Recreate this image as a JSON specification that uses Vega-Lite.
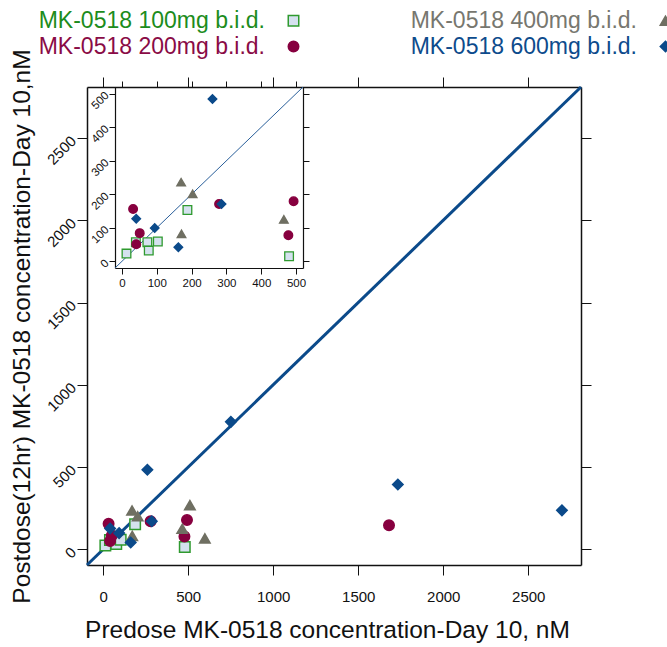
{
  "$schema": "https://vega.github.io/schema/vega-lite/v6.json",
  "width": 494,
  "height": 478,
  "autosize": {"type": "none"},
  "padding": {"left": 87, "top": 87, "right": 86, "bottom": 82},
  "background": "white",
  "config": {
    "font": "Liberation Sans",
    "view": {"stroke": null},
    "axis": {"grid": false, "domainColor": "#111111", "tickColor": "#111111", "labelColor": "#111111", "titleColor": "#111111", "labelFont": "Liberation Sans", "titleFont": "Liberation Sans", "titleFontWeight": "normal", "format": "d"}
  },
  "datasets": {
    "pts": [
      {"dose": "MK-0518 100mg b.i.d.", "pre": 13, "post": 23},
      {"dose": "MK-0518 100mg b.i.d.", "pre": 40, "post": 57},
      {"dose": "MK-0518 100mg b.i.d.", "pre": 73, "post": 57},
      {"dose": "MK-0518 100mg b.i.d.", "pre": 77, "post": 32},
      {"dose": "MK-0518 100mg b.i.d.", "pre": 103, "post": 59},
      {"dose": "MK-0518 100mg b.i.d.", "pre": 188, "post": 153},
      {"dose": "MK-0518 100mg b.i.d.", "pre": 480, "post": 15},
      {"dose": "MK-0518 200mg b.i.d.", "pre": 32, "post": 156},
      {"dose": "MK-0518 200mg b.i.d.", "pre": 51, "post": 84},
      {"dose": "MK-0518 200mg b.i.d.", "pre": 41, "post": 51},
      {"dose": "MK-0518 200mg b.i.d.", "pre": 279, "post": 171},
      {"dose": "MK-0518 200mg b.i.d.", "pre": 493, "post": 179},
      {"dose": "MK-0518 200mg b.i.d.", "pre": 478, "post": 78},
      {"dose": "MK-0518 200mg b.i.d.", "pre": 1681, "post": 146},
      {"dose": "MK-0518 400mg b.i.d.", "pre": 170, "post": 236},
      {"dose": "MK-0518 400mg b.i.d.", "pre": 203, "post": 201},
      {"dose": "MK-0518 400mg b.i.d.", "pre": 171, "post": 82},
      {"dose": "MK-0518 400mg b.i.d.", "pre": 465, "post": 125},
      {"dose": "MK-0518 400mg b.i.d.", "pre": 510, "post": 269},
      {"dose": "MK-0518 400mg b.i.d.", "pre": 598, "post": 67},
      {"dose": "MK-0518 600mg b.i.d.", "pre": 260, "post": 484},
      {"dose": "MK-0518 600mg b.i.d.", "pre": 286, "post": 171},
      {"dose": "MK-0518 600mg b.i.d.", "pre": 41, "post": 127},
      {"dose": "MK-0518 600mg b.i.d.", "pre": 94, "post": 99},
      {"dose": "MK-0518 600mg b.i.d.", "pre": 162, "post": 42},
      {"dose": "MK-0518 600mg b.i.d.", "pre": 751, "post": 775},
      {"dose": "MK-0518 600mg b.i.d.", "pre": 1733, "post": 394},
      {"dose": "MK-0518 600mg b.i.d.", "pre": 2698, "post": 237}
    ],
    "mainline": [{"a": -95, "b": 2810}],
    "insetline": [{"a": -20, "b": 520}]
  },
  "resolve": {"scale": {"x": "independent", "y": "independent", "shape": "shared", "fill": "shared", "stroke": "shared"}},
  "layer": [
    {
      "data": {"name": "mainline"},
      "mark": {"type": "rule", "color": "#0b4a8a", "strokeWidth": 3},
      "encoding": {
        "x": {"field": "a", "type": "quantitative", "scale": {"domain": [-95, 2810], "nice": false, "zero": false},
          "axis": {"orient": "bottom", "values": [0, 500, 1000, 1500, 2000, 2500], "tickSize": 10, "tickWidth": 1, "domainWidth": 1.5, "labelFontSize": 15, "labelPadding": 14, "title": "Predose MK-0518 concentration-Day 10, nM", "titleFontSize": 24.5, "titlePadding": 14, "titleX": 240}},
        "y": {"field": "a", "type": "quantitative", "scale": {"domain": [-95, 2810], "nice": false, "zero": false},
          "axis": {"orient": "left", "values": [0, 500, 1000, 1500, 2000, 2500], "tickSize": 10, "tickWidth": 1, "domainWidth": 1.5, "labelFontSize": 15, "labelPadding": 4, "labelAngle": -45, "title": "Postdose(12hr) MK-0518 concentration-Day 10,nM", "titleFontSize": 24.5, "titlePadding": 10}},
        "x2": {"field": "b"},
        "y2": {"field": "b"}
      }
    },
    {
      "data": {"name": "mainline"},
      "mark": {"type": "rule", "opacity": 0},
      "encoding": {
        "x": {"field": "a", "type": "quantitative", "scale": {"domain": [-95, 2810], "nice": false, "zero": false},
          "axis": {"orient": "top", "values": [0, 500, 1000, 1500, 2000, 2500], "tickSize": 10, "tickWidth": 1, "domainWidth": 1.5, "labels": false, "title": null}},
        "y": {"field": "a", "type": "quantitative", "scale": {"domain": [-95, 2810], "nice": false, "zero": false},
          "axis": {"orient": "right", "values": [0, 500, 1000, 1500, 2000, 2500], "tickSize": 10, "tickWidth": 1, "domainWidth": 1.5, "labels": false, "title": null}},
        "x2": {"field": "b"},
        "y2": {"field": "b"}
      }
    },
    {
      "data": {"name": "pts"},
      "mark": {"type": "point", "filled": true, "opacity": 1, "strokeWidth": 1.5, "size": 110},
      "encoding": {
        "x": {"field": "pre", "type": "quantitative", "scale": {"domain": [-95, 2810], "nice": false, "zero": false}, "axis": null},
        "y": {"field": "post", "type": "quantitative", "scale": {"domain": [-95, 2810], "nice": false, "zero": false}, "axis": null},
        "shape": {"field": "dose", "type": "nominal",
          "scale": {"domain": ["MK-0518 100mg b.i.d.", "MK-0518 200mg b.i.d.", "MK-0518 400mg b.i.d.", "MK-0518 600mg b.i.d."], "range": ["square", "circle", "triangle-up", "diamond"]},
          "legend": {"orient": "none", "legendX": 195, "legendY": -78, "columns": 2, "columnPadding": 108, "rowPadding": 2, "title": null, "labelAlign": "right", "labelOffset": -40, "labelFontSize": 23, "labelLimit": 0, "symbolSize": 110, "symbolStrokeWidth": 1.5,
            "labelColor": {"expr": "datum.value === 'MK-0518 100mg b.i.d.' ? '#1c8c1c' : datum.value === 'MK-0518 200mg b.i.d.' ? '#8a0b46' : datum.value === 'MK-0518 400mg b.i.d.' ? '#77776f' : '#0d4b8c'"}}},
        "fill": {"field": "dose", "type": "nominal",
          "scale": {"domain": ["MK-0518 100mg b.i.d.", "MK-0518 200mg b.i.d.", "MK-0518 400mg b.i.d.", "MK-0518 600mg b.i.d."], "range": ["#d5e1ef", "#87003f", "#6f6f62", "#0b4a8a"]}},
        "stroke": {"field": "dose", "type": "nominal",
          "scale": {"domain": ["MK-0518 100mg b.i.d.", "MK-0518 200mg b.i.d.", "MK-0518 400mg b.i.d.", "MK-0518 600mg b.i.d."], "range": ["#2f9a2f", "#87003f", "#6f6f62", "#0b4a8a"]}}
      }
    },
    {
      "data": {"name": "insetline"},
      "mark": {"type": "rule", "color": "#2a5f9a", "strokeWidth": 1},
      "encoding": {
        "x": {"field": "a", "type": "quantitative", "scale": {"domain": [-20, 520], "nice": false, "zero": false, "range": [28, 216]},
          "axis": {"orient": "bottom", "offset": -297, "values": [0, 100, 200, 300, 400, 500], "tickSize": 6, "tickWidth": 1, "domainWidth": 1.2, "labelFontSize": 11.5, "labelPadding": 3, "title": null}},
        "y": {"field": "a", "type": "quantitative", "scale": {"domain": [-20, 520], "nice": false, "zero": false, "range": [181, 0]},
          "axis": {"orient": "left", "offset": -28, "values": [0, 100, 200, 300, 400, 500], "tickSize": 6, "tickWidth": 1, "domainWidth": 1.2, "labelFontSize": 11.5, "labelPadding": 2, "labelAngle": -45, "title": null}},
        "x2": {"field": "b"},
        "y2": {"field": "b"}
      }
    },
    {
      "data": {"name": "insetline"},
      "mark": {"type": "rule", "opacity": 0},
      "encoding": {
        "x": {"field": "a", "type": "quantitative", "scale": {"domain": [-20, 520], "nice": false, "zero": false, "range": [28, 216]},
          "axis": {"orient": "top", "offset": 0, "values": [0, 100, 200, 300, 400, 500], "tickSize": 6, "tickWidth": 1, "domainWidth": 1.2, "labels": false, "title": null}},
        "y": {"field": "a", "type": "quantitative", "scale": {"domain": [-20, 520], "nice": false, "zero": false, "range": [181, 0]},
          "axis": {"orient": "right", "offset": -278, "values": [0, 100, 200, 300, 400, 500], "tickSize": 6, "tickWidth": 1, "domainWidth": 1.2, "labels": false, "title": null}},
        "x2": {"field": "b"},
        "y2": {"field": "b"}
      }
    },
    {
      "data": {"name": "pts"},
      "transform": [{"filter": "datum.pre <= 500 && datum.post <= 500"}],
      "mark": {"type": "point", "filled": true, "opacity": 1, "strokeWidth": 1.3, "size": 75},
      "encoding": {
        "x": {"field": "pre", "type": "quantitative", "scale": {"domain": [-20, 520], "nice": false, "zero": false, "range": [28, 216]}, "axis": null},
        "y": {"field": "post", "type": "quantitative", "scale": {"domain": [-20, 520], "nice": false, "zero": false, "range": [181, 0]}, "axis": null},
        "shape": {"field": "dose", "type": "nominal", "legend": null},
        "fill": {"field": "dose", "type": "nominal", "legend": null},
        "stroke": {"field": "dose", "type": "nominal", "legend": null}
      }
    }
  ]
}
